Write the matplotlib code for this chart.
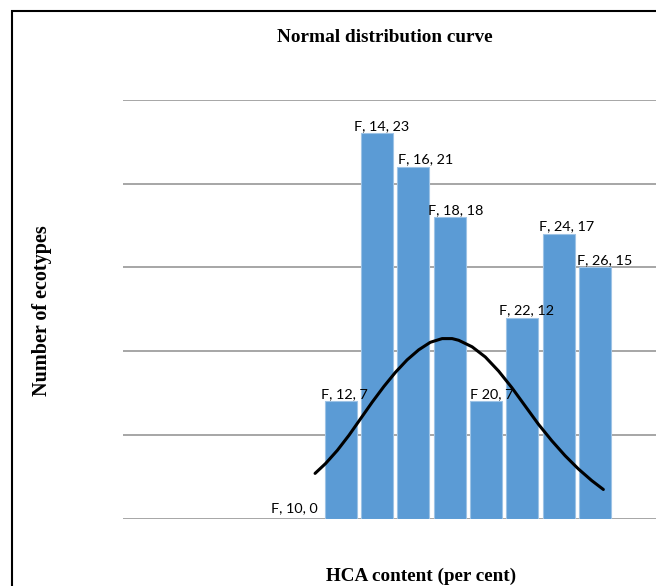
import numpy as np
import matplotlib.pyplot as plt
from matplotlib.patches import Rectangle

# dados
hca = [10, 12, 14, 16, 18, 20, 22, 24, 26]
ecotypes = [0, 7, 23, 21, 18, 7, 12, 17, 15]
labels = ["F, 10, 0", "F, 12, 7", "F, 14, 23", "F, 16, 21", "F, 18, 18",
          "F 20, 7", "F, 22, 12", "F, 24, 17", "F, 26, 15"]

# pontos da curva normal
curve_x = [10.58, 11.16, 11.81, 12.45, 13.09, 13.73, 14.37, 15.01, 15.65,
           16.29, 16.93, 17.58, 18.13, 18.49, 19.23, 19.96, 20.69, 21.42,
           22.15, 22.88, 23.62, 24.35, 25.08, 25.82, 26.46]
curve_y = [2.70, 3.29, 4.08, 4.98, 5.97, 6.96, 7.89, 8.74, 9.48,
           10.08, 10.53, 10.75, 10.75, 10.65, 10.26, 9.65, 8.81, 7.82,
           6.73, 5.64, 4.65, 3.76, 2.97, 2.27, 1.74]

fig = plt.figure(figsize=(6.56, 5.86), dpi=100)
ax = fig.add_axes([123/656, 1 - 518.6/586, 1 - 123/656, (518.6 - 100)/586])

ax.bar(hca, ecotypes, width=1.76, color='#5B9BD5', edgecolor='#9DC3E6',
       linewidth=0.8, zorder=2)
ax.plot(curve_x, curve_y, color='black', linewidth=2.2, zorder=3,
        solid_capstyle='round', solid_joinstyle='round')

# rótulos das barras
dx = [0, 4, 4, 12, 6, 6, 4, 8, 10]
for x, y, lab, off in zip(hca, ecotypes, labels, dx):
    if y == 0:
        ax.annotate(lab, (x + 0.88, y), xytext=(-2, 3), textcoords='offset points',
                    ha='right', va='bottom', fontsize=10.4, family='Lato')
    else:
        ax.annotate(lab, (x, y), xytext=(off * 0.72, 1), textcoords='offset points',
                    ha='center', va='bottom', fontsize=10.4, family='Lato')

ax.set_xlim(0, 29.36)
ax.set_ylim(0, 25)
ax.set_yticks([0, 5, 10, 15, 20, 25])
ax.yaxis.grid(True, color='#a6a6a6', linewidth=1.4, zorder=0)
ax.set_axisbelow(True)
ax.tick_params(left=False, bottom=False, labelleft=False, labelbottom=False)
for s in ax.spines.values():
    s.set_visible(False)

fig.text(385/656, 1 - 38/586, 'Normal distribution curve', ha='center', va='center',
         fontsize=13.9, fontweight='bold', family='Liberation Serif')
fig.text(42/656, 1 - 311/586, 'Number of ecotypes', ha='center', va='center',
         rotation=90, fontsize=14.5, fontweight='bold', family='Liberation Serif')
fig.text(421/656, 1 - 576/586, 'HCA content (per cent)', ha='center', va='center',
         fontsize=13.8, fontweight='bold', family='Liberation Serif')

# moldura
fig.patches.append(Rectangle((12/656, -0.1), 1.0, 1 - 11/586 + 0.1,
                             transform=fig.transFigure, fill=False,
                             edgecolor='black', linewidth=1.5))

fig.savefig('out.png', dpi=100)
